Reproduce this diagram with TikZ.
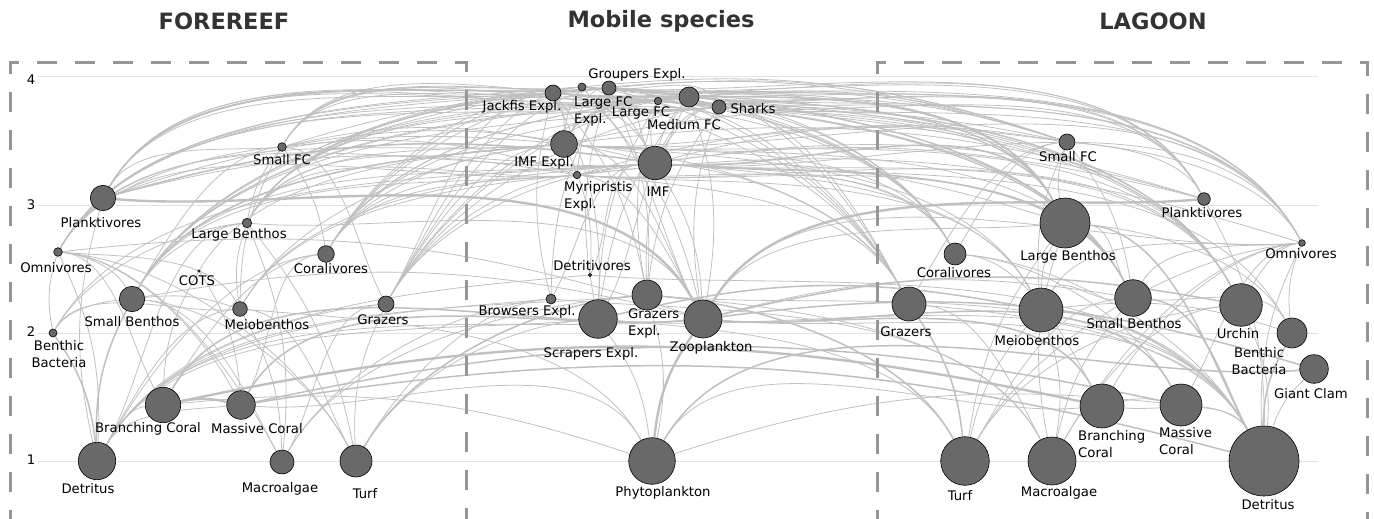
\documentclass[tikz,border=0pt]{standalone}
\usepackage{fontspec}
\setmainfont{DejaVu Sans}
\definecolor{edgecol}{RGB}{192,192,192}
\definecolor{nodefill}{RGB}{105,105,105}
\definecolor{gridcol}{RGB}{226,226,226}
\definecolor{boxcol}{RGB}{150,150,150}
\definecolor{titlecol}{RGB}{51,51,51}
\pgfdeclarelayer{gridlayer}
\pgfdeclarelayer{edgelayer}
\pgfdeclarelayer{boxlayer}
\pgfsetlayers{gridlayer,edgelayer,boxlayer,main}
\tikzset{
 sp/.style={circle, draw=black, line width=0.6pt, fill=nodefill, inner sep=0pt},
 lab/.style={font=\fontsize{13.2}{17}\selectfont, inner sep=0pt, text=black},
 ed/.style={draw=edgecol, line width=0.8pt},
 edm/.style={draw=edgecol, line width=1.5pt},
 edt/.style={draw=edgecol, line width=2.4pt},
 boxline/.style={draw=boxcol, line width=3pt, dash pattern=on 20pt off 18pt},
 gridl/.style={draw=gridcol, line width=1pt},
 ttl/.style={font=\fontsize{22.5}{27}\selectfont\bfseries, text=titlecol, inner sep=0pt},
 axl/.style={font=\fontsize{13.2}{16}\selectfont, inner sep=0pt}
}
% edge between two named nodes, shape chosen from their relative position
\newcommand\fwedge[3]{%
  \path (#2); \pgfgetlastxy{\fwax}{\fway}%
  \path (#3); \pgfgetlastxy{\fwbx}{\fwby}%
  \ifdim\fwax>\fwbx
    \def\fwL{#3}\def\fwR{#2}%
    \pgfmathsetmacro\fwdx{\fwax-\fwbx}\pgfmathsetmacro\fwdy{\fway-\fwby}%
  \else
    \def\fwL{#2}\def\fwR{#3}%
    \pgfmathsetmacro\fwdx{\fwbx-\fwax}\pgfmathsetmacro\fwdy{\fwby-\fway}%
  \fi
  \pgfmathtruncatemacro\fwk{abs(\fwdy) < 0.12*\fwdx ? 1 : (abs(\fwdy) > 1.8*\fwdx ? 2 : (\fwdy > 0 ? 3 : 4))}%
  \ifcase\fwk
  \or \draw[#1] (\fwL) to[bend left=12] (\fwR);
  \or \draw[#1] (\fwL) to[bend left=14] (\fwR);
  \or \draw[#1] (\fwL) to[out=60,in=185,looseness=0.8] (\fwR);
  \or \draw[#1] (\fwL) to[out=-5,in=118,looseness=0.8] (\fwR);
  \fi
}
\begin{document}
\begin{tikzpicture}[x=1pt,y=1pt]
\useasboundingbox (0,0) rectangle (1374,-519);
% titles
\node[ttl] (t1) at (224,-21) {FOREREEF};
\node[ttl] (t2) at (661,-21) {Mobile species};
\node[ttl] (t3) at (1153,-21) {LAGOON};
% grid
\begin{pgfonlayer}{gridlayer}
\foreach \v/\yy in {4/77,3/205,2/333,1/461}{
  \coordinate (g\v a) at (38,-\yy);
  \coordinate (g\v b) at (1318,-\yy);
  \draw[gridl] (g\v a) -- (g\v b);
}
\end{pgfonlayer}
\node[axl] (a4) at (31,-80) {4};
\node[axl] (a3) at (31,-205) {3};
\node[axl] (a2) at (31,-332) {2};
\node[axl] (a1) at (31,-460) {1};
% boxes
\begin{pgfonlayer}{boxlayer}
\coordinate (fb1) at (10,-530); \coordinate (fb2) at (10,-63);
\coordinate (fb3) at (466,-63); \coordinate (fb4) at (466,-530);
\draw[boxline] (fb1) -- (fb2) -- (fb3) -- (fb4);
\coordinate (lb1) at (877,-530); \coordinate (lb2) at (877,-63);
\coordinate (lb3) at (1367,-63); \coordinate (lb4) at (1367,-530);
\draw[boxline] (lb1) -- (lb2) -- (lb3) -- (lb4);
\end{pgfonlayer}
% species nodes
\foreach \n/\x/\y/\r in {
 fSFC/282/147/4.3, fPla/103/198/12.7, fLB/247/223/4.7, fOmn/58/252/4.3,
 fCor/326/254/8.3, fCOTS/199/271/1.2, fSB/132/299/12.7, fMei/240/309/7.3,
 fGra/386/304/8, fBB/53/333/4, fBC/163/405/17.7, fMC/241/405/14.3,
 fDet/97/461/18.7, fMac/282/462/12, fTur/356/461/16,
 mJack/553/93/8, mLFCE/582/87/4, mGroE/609/88/7, mLFC/658/101/3.7,
 mMFC/689/97/10, mSha/719/107/7, mIMFE/564/144/13.3, mMyr/577/175/3.7,
 mIMF/655/163/16.7, mDtv/590/275/1.6, mBro/551/299/5, mScr/598/319/19.3,
 mGraE/647/295/15, mZoo/703/319/19, mPhy/652/461/23.3,
 lSFC/1067/142/8, lPla/1204/199/6.3, lLB/1065/223/25, lOmn/1302/243/3.3,
 lCor/955/254/11, lGra/909/304/17, lMei/1041/310/22, lSB/1133/298/18.3,
 lUrc/1241/305/21.3, lBB/1292/333/15, lGC/1314/369/14.3, lBC/1102/406/22,
 lMC/1181/405/21, lTur/965/461/24.3, lMac/1052/461/24, lDet/1264/461/35}{
  \node[sp, minimum size={2*\r*1pt}] (\n) at (\x,-\y) {};
}
% edges
\begin{pgfonlayer}{edgelayer}
\foreach \p in {mJack,mLFCE,mGroE,mLFC,mMFC,mSha,mIMFE,mIMF,mMyr}{
  \foreach \q in {fSFC,fPla,fOmn,fCor,fGra,fSB,fLB,lSFC,lPla,lOmn,lCor,lGra,lSB,lLB,lUrc}{
    \fwedge{ed}{\p}{\q}
  }
}
\foreach \a/\b in {mJack/mIMFE, mJack/mIMF, mJack/mZoo, mJack/mScr, mJack/mGraE,
  mLFCE/mIMF, mLFCE/mIMFE, mLFCE/mZoo, mGroE/mScr, mGroE/mGraE, mGroE/mIMF,
  mGroE/mIMFE, mGroE/mMyr, mLFC/mIMF, mLFC/mIMFE, mLFC/mGraE, mLFC/mScr,
  mMFC/mIMF, mMFC/mIMFE, mMFC/mZoo, mMFC/mGraE, mMFC/mScr, mSha/mIMF,
  mSha/mIMFE, mSha/mZoo, mSha/mGraE, mSha/mJack, mSha/mGroE, mIMFE/mZoo,
  mIMF/mZoo, mMyr/mZoo, mIMF/mBro, mJack/mBro, mGroE/mBro, mSha/mScr,
  mIMF/mDtv, mIMFE/mDtv, mIMF/fMei, mIMF/lMei, mIMFE/fMei, mIMFE/lMei,
  mMyr/fMei, mMyr/lMei, mIMF/fBB, mIMF/lBB, mIMFE/fCOTS,
  mBro/fMac, mBro/lMac, mBro/fTur, mScr/fTur, mScr/lTur, mScr/fDet, mScr/lDet,
  mGraE/fTur, mGraE/fMac, mGraE/lMac, mGraE/lDet, mDtv/fDet, mDtv/lDet,
  mZoo/fDet, mZoo/lDet, mScr/mPhy, mGraE/mPhy, mGraE/fDet, mBro/fDet,
  fOmn/mZoo, lOmn/mZoo, fSB/mZoo, lSB/mZoo, fBC/mPhy, fMC/mPhy, lBC/mPhy,
  lMC/mPhy, fLB/mZoo, lLB/mZoo, fMei/mPhy,
  fSFC/fPla, fSFC/fOmn, fSFC/fSB, fSFC/fLB, fSFC/fMei, fSFC/fGra, fSFC/fCor,
  fOmn/fSB, fOmn/fMei, fOmn/fBB, fOmn/fTur, fOmn/fMac, fOmn/fDet, fOmn/fBC,
  fOmn/fMC, fCor/fBC, fCor/fMC, fCOTS/fBC, fCOTS/fMC, fCor/fDet,
  fLB/fSB, fLB/fMei, fLB/fDet, fLB/fBB, fLB/fTur, fLB/fMac,
  fSB/fMei, fSB/fBB, fSB/fTur, fSB/fMac,
  fMei/fDet, fMei/fBB, fMei/fTur, fMei/fMac,
  fGra/fTur, fGra/fMac, fGra/fDet, fBC/fDet, fMC/fDet, fPla/fDet,
  lSFC/lPla, lSFC/lOmn, lSFC/lSB, lSFC/lLB, lSFC/lMei, lSFC/lGra, lSFC/lCor,
  lOmn/lSB, lOmn/lMei, lOmn/lBB, lOmn/lTur, lOmn/lMac, lOmn/lDet, lOmn/lBC,
  lOmn/lMC, lOmn/lUrc, lCor/lBC, lCor/lMC, lCor/lDet,
  lLB/lSB, lLB/lMei, lLB/lBB, lLB/lTur, lLB/lMac,
  lSB/lMei, lSB/lBB, lSB/lTur, lSB/lMac,
  lMei/lBB, lMei/lTur, lMei/lMac,
  lGra/lMac, lGra/lDet, lUrc/lTur, lUrc/lMac, lUrc/lDet,
  lGC/lDet, lBC/lDet, lMC/lDet, lPla/lDet, lBC/lMC}{
  \fwedge{ed}{\a}{\b}
}
\foreach \a/\b in {fBC/mZoo, fMC/mZoo, mZoo/lBC, mZoo/lMC, mZoo/lGC, mPhy/lGC,
  fSB/fDet, fBB/fDet, lLB/lDet, lSB/lDet, lMei/lDet, lBB/lDet, lGra/lTur,
  mGraE/lTur, mGraE/fTur, mIMF/lLB, mIMFE/fSB, mIMF/lSB, fMC/lMC, fMC/lDet,
  mGroE/fPla, mJack/lLB, mIMF/fPla, mZoo/lUrc, mScr/lMei}{
  \fwedge{edm}{\a}{\b}
}
\foreach \a/\b in {fPla/mZoo, lPla/mZoo, mPhy/mZoo, fBC/lBC, fBC/fMC}{
  \fwedge{edt}{\a}{\b}
}
\end{pgfonlayer}
% labels
\node[lab] (fSFC-l) at (282,-160) {Small FC};
\node[lab] (fPla-l) at (101,-223) {Planktivores};
\node[lab] (fLB-l) at (239,-235) {Large Benthos};
\node[lab] (fOmn-l) at (56,-268) {Omnivores};
\node[lab] (fCor-l) at (331,-269) {Coralivores};
\node[lab] (fCOTS-l) at (197,-281) {COTS};
\node[lab] (fSB-l) at (132,-322) {Small Benthos};
\node[lab] (fMei-l) at (267,-325) {Meiobenthos};
\node[lab] (fGra-l) at (383,-320) {Grazers};
\node[lab, align=center] (fBB-l) at (59,-354.5) {Benthic\\Bacteria};
\node[lab] (fBC-l) at (148,-429) {Branching Coral};
\node[lab] (fMC-l) at (257,-429) {Massive Coral};
\node[lab] (fDet-l) at (88,-489) {Detritus};
\node[lab] (fMac-l) at (280,-489) {Macroalgae};
\node[lab] (fTur-l) at (365,-494) {Turf};
\node[lab] (mJack-l) at (522,-107) {Jackfis Expl.};
\node[lab, align=left, anchor=west] (mLFCE-l) at (574,-111) {Large FC\\Expl.};
\node[lab] (mGroE-l) at (637,-75) {Groupers Expl.};
\node[lab] (mLFC-l) at (641,-113) {Large FC};
\node[lab] (mMFC-l) at (684,-125) {Medium FC};
\node[lab] (mSha-l) at (753,-109) {Sharks};
\node[lab] (mIMFE-l) at (544,-163) {IMF Expl.};
\node[lab, align=left, anchor=west] (mMyr-l) at (564,-196) {Myripristis\\Expl.};
\node[lab] (mIMF-l) at (658,-192) {IMF};
\node[lab] (mDtv-l) at (592,-266) {Detritivores};
\node[lab] (mBro-l) at (527,-312) {Browsers Expl.};
\node[lab] (mScr-l) at (591,-354) {Scrapers Expl.};
\node[lab, align=left, anchor=west] (mGraE-l) at (628,-323.5) {Grazers\\Expl.};
\node[lab] (mZoo-l) at (711,-348) {Zooplankton};
\node[lab] (mPhy-l) at (663,-493) {Phytoplankton};
\node[lab] (lSFC-l) at (1068,-157) {Small FC};
\node[lab] (lPla-l) at (1202,-213) {Planktivores};
\node[lab] (lLB-l) at (1068,-257) {Large Benthos};
\node[lab] (lOmn-l) at (1301,-254) {Omnivores};
\node[lab] (lCor-l) at (954,-273) {Coralivores};
\node[lab] (lGra-l) at (906,-332) {Grazers};
\node[lab] (lMei-l) at (1037,-341) {Meiobenthos};
\node[lab] (lSB-l) at (1134,-324) {Small Benthos};
\node[lab] (lUrc-l) at (1238,-334) {Urchin};
\node[lab, align=center] (lBB-l) at (1259,-361) {Benthic\\Bacteria};
\node[lab] (lGC-l) at (1311,-394) {Giant Clam};
\node[lab, align=left, anchor=west] (lBC-l) at (1078,-444) {Branching\\Coral};
\node[lab, align=left, anchor=west] (lMC-l) at (1159,-441) {Massive\\Coral};
\node[lab] (lTur-l) at (960,-496) {Turf};
\node[lab] (lMac-l) at (1059,-493) {Macroalgae};
\node[lab] (lDet-l) at (1268,-505) {Detritus};
\end{tikzpicture}
\end{document}
